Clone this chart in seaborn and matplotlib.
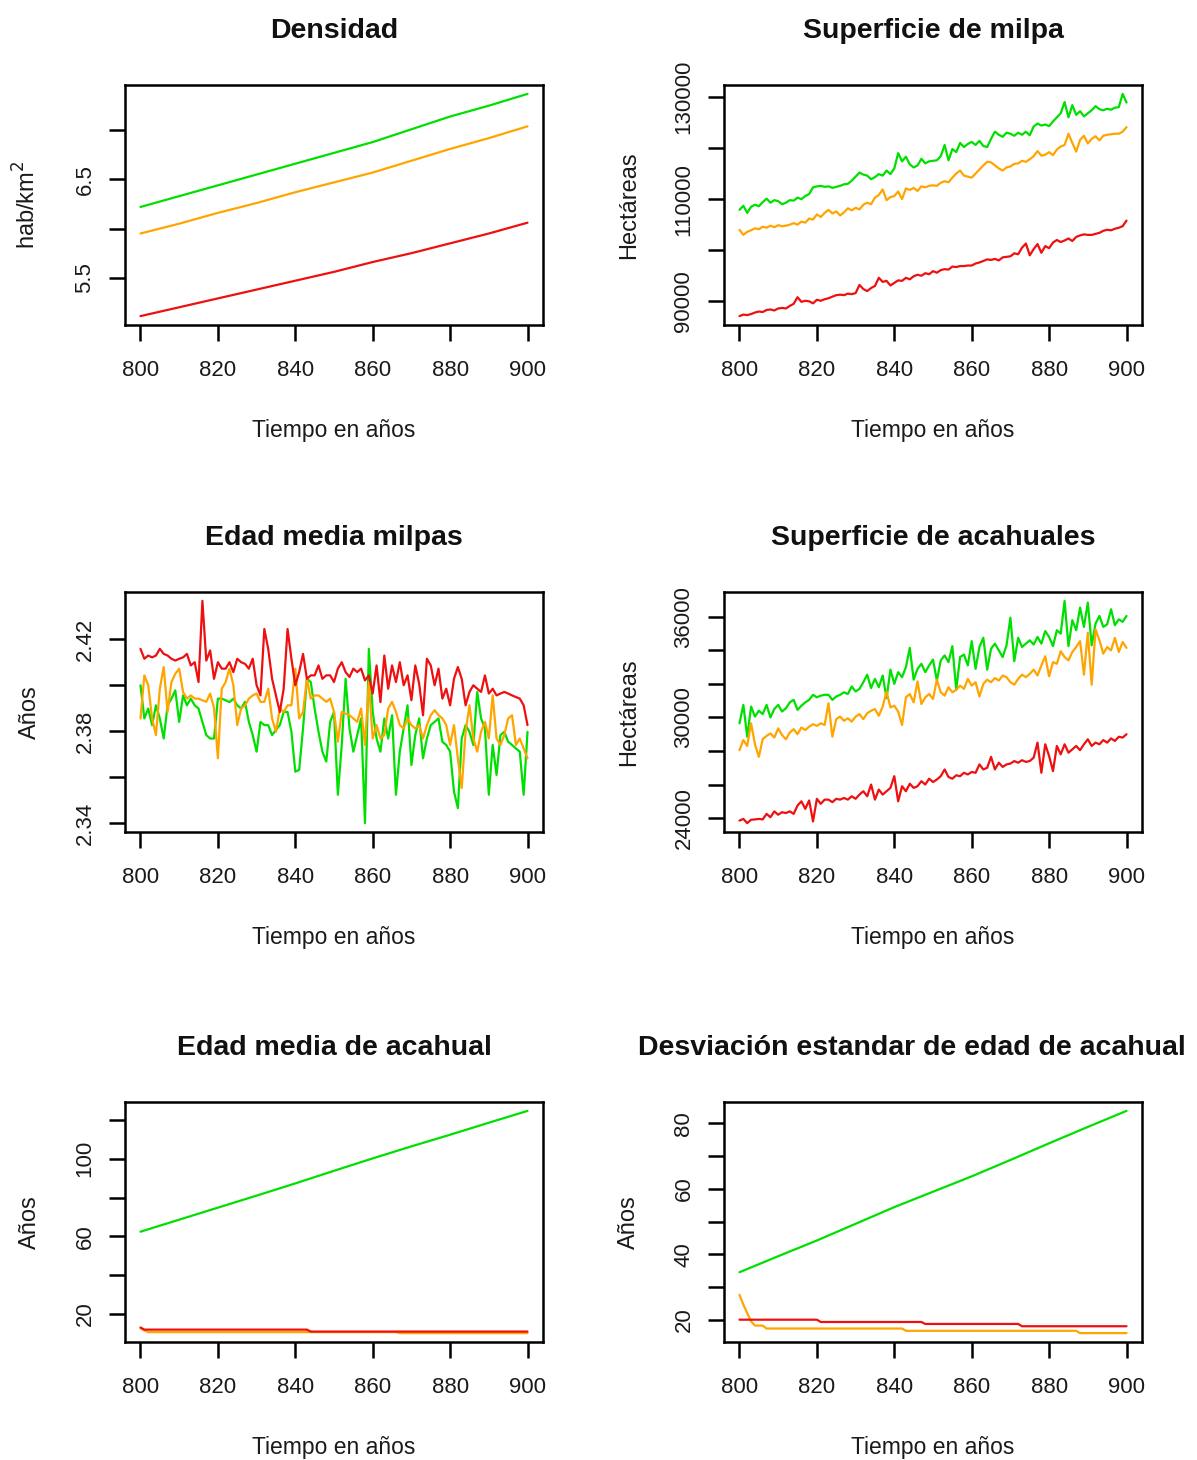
import numpy as np
import pandas as pd
import matplotlib
matplotlib.use("Agg")
import matplotlib.pyplot as plt
import seaborn as sns

# ---------------------------------------------------------------- data
years = list(range(800, 901))
years_dec = list(range(800, 901, 10))

# Densidad (hab/km2), read every 10 years
dens_rojo = [5.11, 5.20, 5.29, 5.38, 5.47, 5.56, 5.66, 5.75, 5.85, 5.95, 6.06]
dens_naranja = [5.95, 6.05, 6.16, 6.26, 6.37, 6.47, 6.57, 6.69, 6.81, 6.92, 7.04]
dens_verde = [6.22, 6.33, 6.44, 6.55, 6.66, 6.77, 6.88, 7.01, 7.14, 7.25, 7.37]

# Superficie de milpa (miles de hectareas), yearly
milpa_rojo = [87.1, 87.4, 87.3, 87.5, 87.8, 88.0, 87.9, 88.3, 88.4, 88.2,
              88.6, 88.7, 88.6, 89.1, 89.5, 90.8, 89.9, 90.1, 90.0, 89.6,
              90.3, 90.1, 90.4, 90.6, 90.9, 91.2, 91.3, 91.2, 91.5, 91.4,
              91.6, 93.2, 92.4, 92.0, 92.6, 93.0, 94.6, 93.8, 94.0, 93.1,
              93.6, 94.1, 94.0, 94.6, 94.3, 94.9, 95.2, 95.0, 95.5, 95.3,
              95.9, 95.6, 96.1, 96.3, 96.2, 96.8, 96.7, 96.9, 96.9, 97.0,
              97.0, 97.4, 97.6, 97.9, 98.2, 98.1, 98.3, 98.0, 98.6, 98.7,
              98.8, 99.4, 99.2, 100.5, 101.3, 99.0, 100.2, 101.2, 99.5, 100.8,
              100.4, 101.5, 102.0, 101.6, 101.9, 102.3, 101.8, 102.6, 102.9, 103.1,
              103.0, 103.0, 103.2, 103.4, 103.8, 104.0, 103.9, 104.2, 104.4, 104.7,
              105.8]
milpa_naranja = [104.0, 103.0, 103.6, 103.9, 104.3, 104.1, 104.6, 104.4, 104.8, 104.5,
                 104.9, 104.7, 104.8, 105.0, 105.3, 105.0, 105.6, 105.4, 106.2, 106.0,
                 107.0, 106.5, 107.3, 107.9, 107.2, 107.6, 106.8, 107.4, 108.2, 107.8,
                 108.3, 108.0, 108.9, 109.3, 109.0, 110.3, 110.8, 111.9, 109.8, 110.4,
                 110.6, 111.5, 110.0, 112.1, 111.8, 112.2, 111.6, 112.5, 112.3, 112.6,
                 112.7, 112.6, 113.2, 113.5, 113.3, 114.2, 115.0, 115.6, 114.6, 114.4,
                 114.2, 115.0, 115.8, 116.6, 117.3, 117.2, 116.6, 116.0, 115.6, 116.2,
                 116.4, 116.9, 117.0, 117.5, 117.3, 117.8, 118.4, 119.4, 118.5, 118.7,
                 119.2, 118.6, 119.7, 120.3, 120.6, 122.8, 121.0, 119.3, 121.6, 122.4,
                 120.9, 121.8, 122.3, 121.5, 122.4, 122.6, 122.7, 122.8, 122.8, 123.2,
                 124.1]
milpa_verde = [107.9, 108.7, 107.3, 108.5, 108.9, 108.6, 109.4, 110.1, 109.3, 109.8,
               109.6, 109.0, 109.3, 109.8, 109.7, 110.3, 110.0, 110.6, 111.0, 112.3,
               112.5, 112.6, 112.4, 112.5, 112.2, 112.4, 112.6, 112.9, 113.0, 113.6,
               114.4, 115.2, 114.8, 114.6, 113.9, 114.3, 114.9, 114.6, 115.6, 114.9,
               116.0, 119.0, 117.4, 118.3, 116.8, 116.2, 116.6, 117.9, 117.0, 117.4,
               117.5, 117.6, 118.4, 120.6, 117.6, 119.8, 119.2, 121.0, 120.2, 120.8,
               121.2, 120.6, 121.4, 120.4, 120.2, 121.8, 123.2, 122.6, 122.2, 123.0,
               122.8, 122.4, 123.0, 122.6, 123.2, 122.5, 124.2, 124.8, 124.4, 124.6,
               124.3, 125.2, 126.0, 126.8, 129.0, 126.0, 128.4, 126.5, 127.2, 126.2,
               126.8, 127.4, 128.2, 127.6, 127.4, 127.7, 127.5, 127.9, 128.0, 130.6,
               128.9]

# Edad media de milpas (anos), yearly
edad_milpa_rojo = [2.4157, 2.4114, 2.4128, 2.4120, 2.4128, 2.4157, 2.4135, 2.4128, 2.4114, 2.4106,
                   2.4114, 2.4120, 2.4135, 2.4085, 2.4099, 2.4013, 2.4365, 2.4106, 2.4150, 2.4027,
                   2.4099, 2.4071, 2.4071, 2.4099, 2.4056, 2.4114, 2.4099, 2.4092, 2.4071, 2.4114,
                   2.3999, 2.3955, 2.4243, 2.4157, 2.4027, 2.3955, 2.3883, 2.3984, 2.4243, 2.4114,
                   2.3999, 2.4056, 2.4135, 2.4027, 2.4042, 2.4042, 2.4085, 2.4027, 2.4042, 2.4042,
                   2.4013, 2.4071, 2.4099, 2.4056, 2.4035, 2.4071, 2.4056, 2.4071, 2.4020, 2.4042,
                   2.3963, 2.4085, 2.3926, 2.4128, 2.3984, 2.4085, 2.4013, 2.4099, 2.3999, 2.4042,
                   2.3934, 2.4085, 2.4006, 2.3869, 2.4114, 2.4085, 2.3999, 2.4071, 2.3941, 2.3984,
                   2.3912, 2.4027, 2.4078, 2.4027, 2.3912, 2.3970, 2.3999, 2.3984, 2.3970, 2.4042,
                   2.3963, 2.3984, 2.3955, 2.3963, 2.3970, 2.3963, 2.3955, 2.3948, 2.3941, 2.3912,
                   2.3826]
edad_milpa_naranja = [2.3855, 2.4042, 2.3999, 2.3855, 2.3783, 2.3984, 2.4078, 2.3883, 2.4013, 2.4049,
                      2.4071, 2.3970, 2.3941, 2.3955, 2.3941, 2.3941, 2.3934, 2.3927, 2.3963, 2.3900,
                      2.3682, 2.3984, 2.4013, 2.4071, 2.3999, 2.3826, 2.3898, 2.3912, 2.3941, 2.3955,
                      2.3963, 2.3927, 2.3927, 2.3984, 2.3855, 2.3797, 2.3898, 2.3883, 2.3912, 2.3912,
                      2.4071, 2.3855, 2.3883, 2.4027, 2.3941, 2.3955, 2.3955, 2.3941, 2.3927, 2.3941,
                      2.3883, 2.3754, 2.3883, 2.3876, 2.3869, 2.3855, 2.3840, 2.3898, 2.3740, 2.4013,
                      2.3768, 2.3826, 2.3768, 2.3783, 2.3898, 2.3927, 2.3884, 2.3826, 2.3812, 2.3855,
                      2.3826, 2.3812, 2.3826, 2.3768, 2.3826, 2.3869, 2.3891, 2.3869, 2.3855, 2.3826,
                      2.3740, 2.3826, 2.3682, 2.3553, 2.3797, 2.3912, 2.3768, 2.3711, 2.3797, 2.3840,
                      2.3768, 2.3955, 2.3768, 2.3740, 2.3783, 2.3855, 2.3869, 2.3740, 2.3768, 2.3725,
                      2.3682]
edad_milpa_verde = [2.3999, 2.3855, 2.3898, 2.3826, 2.3912, 2.3855, 2.3768, 2.3912, 2.3941, 2.3977,
                    2.3840, 2.3955, 2.3912, 2.3941, 2.3912, 2.3898, 2.3840, 2.3783, 2.3768, 2.3768,
                    2.3941, 2.3941, 2.3934, 2.3926, 2.3941, 2.3912, 2.3898, 2.3927, 2.3840, 2.3783,
                    2.3711, 2.3840, 2.3826, 2.3826, 2.3783, 2.3805, 2.3826, 2.3883, 2.3883, 2.3797,
                    2.3624, 2.3632, 2.3812, 2.4027, 2.4013, 2.3898, 2.3797, 2.3711, 2.3668, 2.3840,
                    2.3883, 2.3524, 2.3740, 2.4027, 2.3812, 2.3711, 2.3783, 2.3855, 2.3401, 2.4157,
                    2.3883, 2.3768, 2.3711, 2.3855, 2.3768, 2.3869, 2.3524, 2.3711, 2.3812, 2.3912,
                    2.3653, 2.3783, 2.3855, 2.3682, 2.3768, 2.3826, 2.3840, 2.3855, 2.3754, 2.3740,
                    2.3711, 2.3538, 2.3466, 2.3768, 2.3826, 2.3797, 2.3740, 2.3970, 2.3855, 2.3812,
                    2.3524, 2.3740, 2.3610, 2.3783, 2.3797, 2.3754, 2.3740, 2.3725, 2.3711, 2.3524,
                    2.3797]

# Superficie de acahuales (miles de hectareas), yearly
acah_rojo = [23.85, 23.95, 23.70, 23.90, 23.92, 23.95, 23.92, 24.25, 24.05, 24.40,
             24.20, 24.35, 24.30, 24.40, 24.25, 24.75, 25.00, 24.55, 25.05, 23.80,
             25.15, 24.85, 25.10, 25.10, 24.95, 25.15, 25.10, 25.20, 25.10, 25.30,
             25.15, 25.40, 25.60, 25.30, 26.00, 25.10, 25.70, 25.40, 25.60, 25.80,
             26.50, 25.00, 25.90, 25.60, 26.05, 25.80, 25.90, 26.20, 26.00, 26.35,
             26.15, 26.30, 26.50, 26.90, 26.45, 26.35, 26.55, 26.50, 26.70, 26.60,
             26.75, 26.70, 27.20, 26.90, 27.00, 27.65, 26.90, 27.30, 27.05, 27.20,
             27.25, 27.40, 27.30, 27.45, 27.35, 27.40, 27.60, 28.50, 26.70, 28.40,
             27.70, 26.80, 28.30, 27.80, 28.40, 27.90, 28.10, 28.30, 28.05, 28.40,
             28.70, 28.30, 28.50, 28.40, 28.65, 28.50, 28.75, 28.60, 28.85, 28.80,
             29.00]
acah_naranja = [28.05, 28.65, 28.30, 29.65, 28.40, 27.65, 28.70, 28.90, 29.05, 28.80,
                29.35, 28.95, 28.70, 29.10, 29.30, 29.00, 29.40, 29.25, 29.45, 29.60,
                29.50, 29.65, 29.55, 30.85, 28.85, 29.90, 30.05, 29.80, 29.95, 29.75,
                30.05, 30.20, 29.90, 30.25, 30.40, 30.50, 30.10, 30.65, 31.55, 30.60,
                30.70, 30.35, 29.55, 31.20, 31.40, 30.90, 32.15, 30.80, 31.20, 31.40,
                31.10, 32.25, 31.50, 31.30, 31.80, 31.50, 31.65, 31.90, 31.70, 32.30,
                31.90, 32.10, 31.25, 32.00, 32.25, 32.10, 32.35, 32.20, 32.50, 32.40,
                32.10, 31.95, 32.30, 32.55, 32.40, 32.60, 32.85, 32.50, 33.10, 33.65,
                32.45, 33.30, 33.20, 33.95, 33.60, 33.40, 33.90, 34.20, 34.55, 32.55,
                35.05, 31.95, 35.25, 34.60, 33.80, 34.20, 34.00, 34.75, 33.90, 34.50,
                34.15]
acah_verde = [29.65, 30.75, 28.85, 30.65, 30.05, 30.40, 30.20, 30.75, 30.00, 30.50,
              30.75, 30.35, 30.55, 30.90, 31.05, 30.45, 30.70, 30.90, 31.05, 31.35,
              31.20, 31.30, 31.35, 31.35, 31.05, 31.25, 31.35, 31.50, 31.40, 31.85,
              31.55, 31.70, 32.10, 32.55, 31.75, 32.30, 31.80, 32.50, 31.15, 32.85,
              32.00, 32.70, 32.40, 33.00, 34.15, 32.25, 32.90, 33.20, 32.70, 33.10,
              33.45, 32.20, 33.40, 33.70, 33.30, 34.25, 31.65, 33.60, 33.75, 33.10,
              34.55, 32.90, 34.20, 34.75, 32.85, 34.10, 34.40, 34.00, 33.60, 34.30,
              35.95, 33.35, 34.75, 34.20, 34.40, 34.60, 34.35, 34.80, 34.40, 35.15,
              34.80, 34.25, 35.20, 35.00, 36.95, 34.25, 35.80, 35.20, 36.55, 35.40,
              36.85, 34.30, 35.60, 36.05, 35.40, 35.55, 36.45, 35.50, 35.85, 35.70,
              36.05]

# Edad media de acahual (anos)
edad_acah_verde = [62.4, 68.6, 74.8, 81.0, 87.3, 93.8, 100.2, 106.4, 112.4, 118.6, 124.7]
edad_acah_rojo_x = [800, 801, 843, 844, 900]
edad_acah_rojo = [13.0, 11.9, 11.9, 10.9, 10.9]
edad_acah_naranja_x = [800, 801, 802, 866, 867, 900]
edad_acah_naranja = [12.6, 11.5, 10.6, 10.6, 10.1, 10.1]

# Desviacion estandar de edad de acahual (anos)
desv_verde = [34.5, 39.4, 44.2, 49.3, 54.4, 59.1, 63.8, 68.8, 73.9, 78.9, 83.8]
desv_rojo_x = [800, 820, 821, 847, 848, 872, 873, 900]
desv_rojo = [20.0, 20.0, 19.3, 19.3, 18.7, 18.7, 18.0, 18.0]
desv_naranja_x = [800, 801, 802, 803, 804, 806, 807, 842, 843, 887, 888, 900]
desv_naranja = [27.6, 24.6, 22.0, 19.5, 18.2, 18.2, 17.3, 17.3, 16.6, 16.6, 15.9, 15.9]

x_ticks = [800, 820, 840, 860, 880, 900]

# ---------------------------------------------------------------- style
sns.set_style("white")
plt.rcParams["font.family"] = ["Liberation Sans", "DejaVu Sans"]

SERIES = ["verde", "naranja", "rojo"]
COLORS = {"verde": "#00e000", "naranja": "#ffa500", "rojo": "#ee1010"}


def frame(parts, scale=1.0):
    rows = []
    for name, xs, ys in parts:
        rows.append(pd.DataFrame({"anio": xs, "valor": np.asarray(ys, float) * scale,
                                  "serie": name}))
    return pd.concat(rows, ignore_index=True)


fig = plt.figure(figsize=(11.97, 14.6), dpi=100)
W, H = 1197.0, 1460.0
lefts = [125 / W, 724 / W]
bottoms = [1 - 325 / H, 1 - 832 / H, 1 - 1342 / H]
aw, ah = 418 / W, 240 / H


def panel(ax, data, title, ylabel, yticks, ylabels, title_x=0.5):
    sns.lineplot(data=data, x="anio", y="valor", hue="serie", hue_order=SERIES,
                 palette=COLORS, legend=False, estimator=None, sort=False,
                 linewidth=1.6, ax=ax)
    lo, hi = data["valor"].min(), data["valor"].max()
    pad = 0.04 * (hi - lo)
    ax.set_ylim(lo - pad, hi + pad)
    ax.set_xlim(796, 904)
    ax.set_xticks(x_ticks)
    ax.set_xticklabels([str(t) for t in x_ticks])
    ax.set_yticks(yticks)
    ax.set_yticklabels(ylabels, rotation=90, va="center")
    ax.tick_params(axis="both", direction="out", length=11.3, width=1.8,
                   color="black", labelsize=16, labelcolor="#1a1a1a",
                   bottom=True, left=True, top=False, right=False)
    ax.tick_params(axis="x", pad=14)
    ax.tick_params(axis="y", pad=10)
    for sp in ax.spines.values():
        sp.set_visible(True)
        sp.set_linewidth(1.8)
        sp.set_color("black")
    ax.set_xlabel("Tiempo en años", fontsize=16.5, labelpad=27, color="#1a1a1a")
    ax.set_ylabel(ylabel, fontsize=17, labelpad=24, color="#1a1a1a")
    ax.set_title(title, fontsize=20.5, fontweight="bold", pad=33.5, x=title_x,
                 color="#111111")
    ax.grid(False)


# Densidad
ax1 = fig.add_axes([lefts[0], bottoms[0], aw, ah])
panel(ax1, frame([("verde", years_dec, dens_verde), ("naranja", years_dec, dens_naranja),
                  ("rojo", years_dec, dens_rojo)]),
      "Densidad", "hab/km$^2$", [5.5, 6.0, 6.5, 7.0], ["5.5", "", "6.5", ""])

# Superficie de milpa
ax2 = fig.add_axes([lefts[1], bottoms[0], aw, ah])
panel(ax2, frame([("verde", years, milpa_verde), ("naranja", years, milpa_naranja),
                  ("rojo", years, milpa_rojo)], scale=1000.0),
      "Superficie de milpa", "Hectáreas",
      [90000, 100000, 110000, 120000, 130000], ["90000", "", "110000", "", "130000"])

# Edad media milpas
ax3 = fig.add_axes([lefts[0], bottoms[1], aw, ah])
panel(ax3, frame([("verde", years, edad_milpa_verde), ("naranja", years, edad_milpa_naranja),
                  ("rojo", years, edad_milpa_rojo)]),
      "Edad media milpas", "Años",
      [2.34, 2.36, 2.38, 2.40, 2.42], ["2.34", "", "2.38", "", "2.42"])

# Superficie de acahuales
ax4 = fig.add_axes([lefts[1], bottoms[1], aw, ah])
panel(ax4, frame([("verde", years, acah_verde), ("naranja", years, acah_naranja),
                  ("rojo", years, acah_rojo)], scale=1000.0),
      "Superficie de acahuales", "Hectáreas",
      [24000, 26000, 28000, 30000, 32000, 34000, 36000],
      ["24000", "", "", "30000", "", "", "36000"])

# Edad media de acahual
ax5 = fig.add_axes([lefts[0], bottoms[2], aw, ah])
panel(ax5, frame([("verde", years_dec, edad_acah_verde),
                  ("naranja", edad_acah_naranja_x, edad_acah_naranja),
                  ("rojo", edad_acah_rojo_x, edad_acah_rojo)]),
      "Edad media de acahual", "Años",
      [20, 40, 60, 80, 100, 120], ["20", "", "60", "", "100", ""])

# Desviacion estandar de edad de acahual
ax6 = fig.add_axes([lefts[1], bottoms[2], aw, ah])
panel(ax6, frame([("verde", years_dec, desv_verde),
                  ("naranja", desv_naranja_x, desv_naranja),
                  ("rojo", desv_rojo_x, desv_rojo)]),
      "Desviación estandar de edad de acahual", "Años",
      [20, 30, 40, 50, 60, 70, 80], ["20", "", "40", "", "60", "", "80"],
      title_x=0.45)

fig.savefig("out.png", dpi=100, facecolor="white")
